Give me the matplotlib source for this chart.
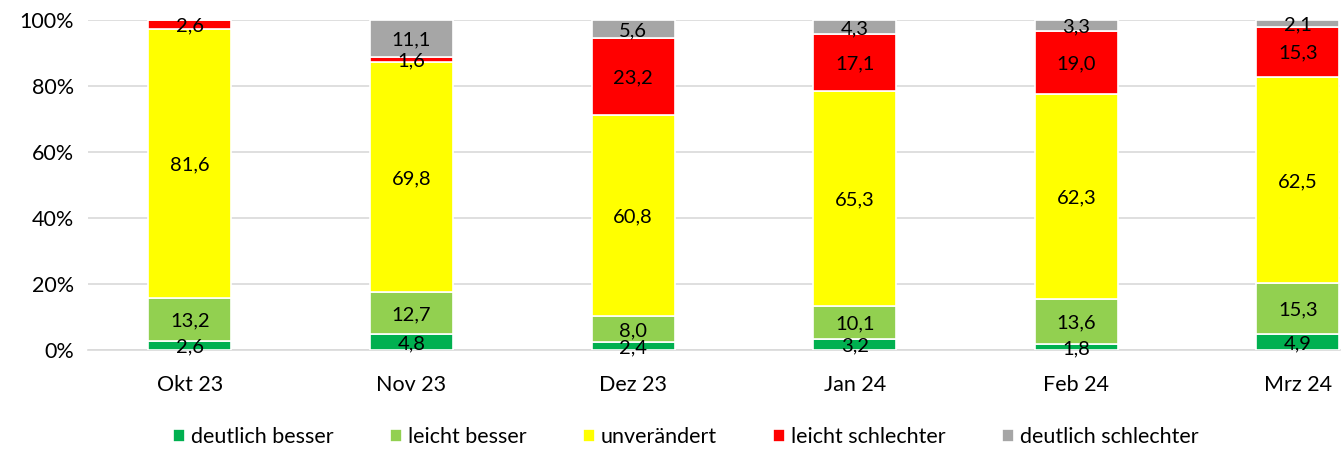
import matplotlib.pyplot as plt
import numpy as np

plt.rcParams['font.family'] = ['Lato', 'DejaVu Sans']

months = ['Okt 23', 'Nov 23', 'Dez 23', 'Jan 24', 'Feb 24', 'Mrz 24']
series = ['deutlich besser', 'leicht besser', 'unverändert', 'leicht schlechter', 'deutlich schlechter']
colors = ['#00b050', '#92d050', '#ffff00', '#ff0000', '#a6a6a6']

deutlich_besser = [2.6, 4.8, 2.4, 3.2, 1.8, 4.9]
leicht_besser = [13.2, 12.7, 8.0, 10.1, 13.6, 15.3]
unveraendert = [81.6, 69.8, 60.8, 65.3, 62.3, 62.5]
leicht_schlechter = [2.6, 1.6, 23.2, 17.1, 19.0, 15.3]
deutlich_schlechter = [0.0, 11.1, 5.6, 4.3, 3.3, 2.1]

values = [deutlich_besser, leicht_besser, unveraendert, leicht_schlechter, deutlich_schlechter]

fig = plt.figure(figsize=(13.44, 4.5), dpi=100)
ax = fig.add_axes([88 / 1344, 100 / 450, (1340 - 88) / 1344, 330 / 450])

x = np.arange(len(months))
bottom = np.zeros(len(months))
for name, vals, col in zip(series, values, colors):
    vals = np.array(vals)
    ax.bar(x, vals, 0.375, bottom=bottom, color=col, edgecolor='white',
           linewidth=1.2, label=name, zorder=3)
    for xi, b, v in zip(x, bottom, vals):
        if v > 0:
            ax.text(xi, b + v / 2, f'{v:.1f}'.replace('.', ','), ha='center',
                    va='center_baseline', fontsize=14.5, zorder=4)
    bottom += vals

ax.set_xlim(-0.46, 5.19)
ax.set_ylim(0, 100)
ax.set_yticks(np.arange(0, 101, 20))
ax.set_yticklabels([f'{v}%' for v in range(0, 101, 20)])
ax.set_xticks(x)
ax.set_xticklabels(months)
ax.tick_params(axis='both', length=0, labelsize=15.5)
ax.tick_params(axis='x', pad=18)
ax.tick_params(axis='y', pad=10)
ax.yaxis.grid(True, color='#d9d9d9', linewidth=1.2, zorder=0)
for s in ax.spines.values():
    s.set_visible(False)
ax.spines['bottom'].set_visible(True)
ax.spines['bottom'].set_color('#d9d9d9')
ax.spines['bottom'].set_linewidth(1.2)

ax.legend(loc='center', bbox_to_anchor=(0.5 - 28 / 1252, -0.265), ncol=5, frameon=False,
          fontsize=15.5, handlelength=0.55, handleheight=0.55, handletextpad=0.3,
          columnspacing=2.6)

fig.savefig('out.png', dpi=100)
